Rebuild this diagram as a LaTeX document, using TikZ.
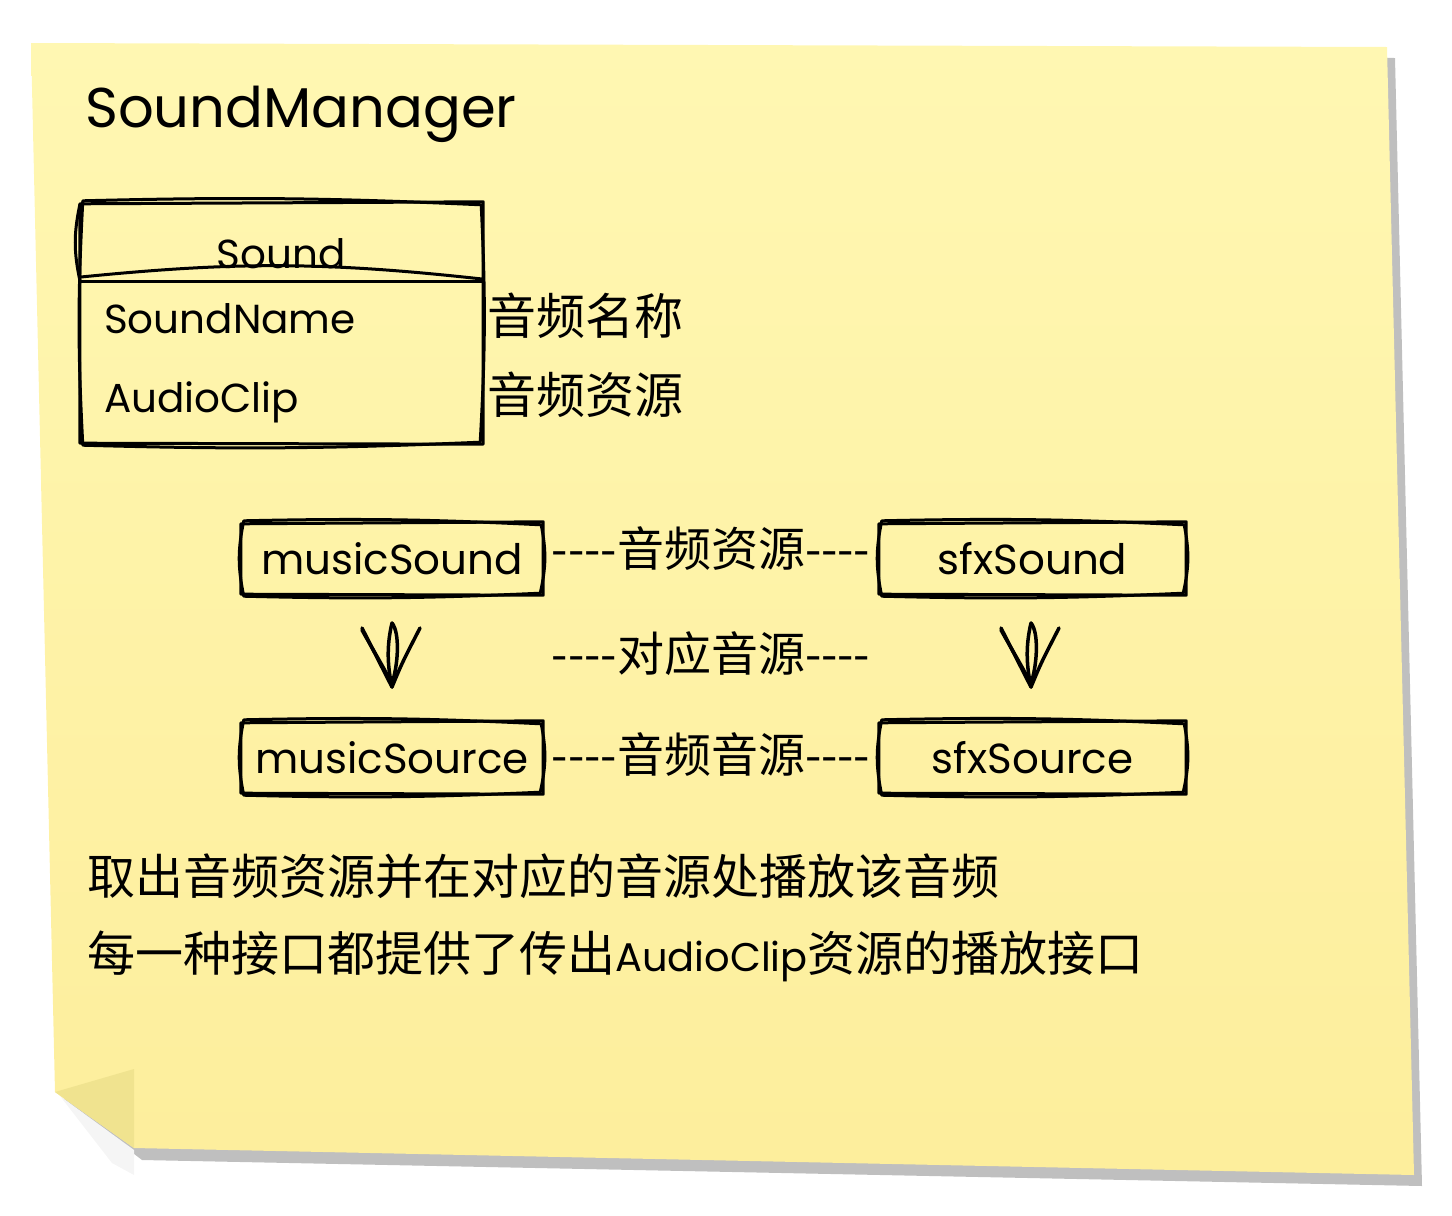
\documentclass[tikz,border=0pt]{standalone}
\usepackage{fontspec}
\setmainfont{Poppins}
\newfontfamily\cjk{Noto Sans CJK SC}
\definecolor{notetop}{RGB}{255,247,178}
\definecolor{notebot}{RGB}{253,238,156}
\definecolor{foldc}{RGB}{240,227,143}
\definecolor{shadowc}{RGB}{191,191,191}
\newcommand\skout[2][12]{%
 \draw[skl] ([shift={(-1,1)}]#2.north west) -- ([shift={(1,-1)}]#2.north east) -- ([shift={(1,1)}]#2.south east) -- ([shift={(-1,0)}]#2.south west) -- cycle;
 \draw[skl] ([shift={(2,-2)}]#2.north west) to[bend left=2] ([shift={(-1,2)}]#2.north east) to[bend left=#1] ([shift={(-2,-1)}]#2.south east) to[bend left=2] ([shift={(2,2)}]#2.south west) to[bend left=#1] ([shift={(2,-2)}]#2.north west);
}
\begin{document}
\begin{tikzpicture}[x=1pt,y=-1pt,
 skl/.style={line width=3pt, line cap=round, line join=round},
 arr/.style={line width=3.5pt, line cap=round, line join=round},
 boxnode/.style={inner sep=0pt, font=\fontsize{42}{46}\selectfont},
 lat/.style={inner sep=0pt, font=\fontsize{40.5}{44}\selectfont},
 zh/.style={inner sep=0pt, font=\cjk\fontsize{49}{54}\selectfont},
 zhm/.style={inner sep=0pt, font=\cjk\fontsize{47}{52}\selectfont},
 zhb/.style={inner sep=0pt, font=\cjk\fontsize{48}{52}\selectfont},
 varrow/.pic={
  \draw[arr] (-30,0) .. controls (-15,30) .. (0,59) .. controls (10,35) .. (28,0);
  \draw[arr] (-30,2) .. controls (-20,20) and (-8,40) .. (0,56);
  \draw[arr] (0,-5) .. controls (-6,20) and (-4,40) .. (0,59);
  \draw[arr] (0,-5) .. controls (8,5) and (6,35) .. (1,52);
 }]
\useasboundingbox (0,0) rectangle (1452,1216);
% sticky note
\fill[shadowc] (39,54) -- (1395,58) -- (1422,1186) -- (142,1160) -- (64,1100) -- cycle;
\fill[gray!8] (60,1096) -- (112,1163) -- (134,1175) -- (134,1150) -- cycle;
\shade[top color=notetop, bottom color=notebot] (31,43) -- (1387,47) -- (1414,1175) -- (134,1148) -- (55,1092) -- cycle;
\fill[foldc] (55,1092) -- (134,1069) -- (134,1148) -- cycle;

% title
\node[inner sep=0pt, anchor=base west, font=\fontsize{56}{60}\selectfont] (title) at (85,127) {SoundManager};

% Sound class
\node[minimum width=401pt, minimum height=240pt, inner sep=0pt] (sound) at (281.5,323) {};
\skout[3]{sound}
\coordinate (hl) at (81,281);
\coordinate (hr) at (482,281);
\draw[skl] (hl) -- (hr);
\draw[skl] ([shift={(0,-4)}]hl) to[bend left=6] ([shift={(0,-2)}]hr);
\draw[skl] ([shift={(-1,2)}]sound.north west) to[bend right=12] ([shift={(-1,0)}]hl);
\node[lat, anchor=base] (stitle) at (281,268) {Sound};
\node[lat, anchor=base west] (sname) at (104,333) {SoundName};
\node[lat, anchor=base west] (sclip) at (104,412) {AudioClip};
\node[zh, anchor=west] (lname) at (487,316) {音频名称};
\node[zh, anchor=west] (lclip) at (487,395) {音频资源};

% boxes
\node[boxnode, minimum width=300pt, minimum height=71pt] (ms) at (392,558.5) {musicSound};
\node[boxnode, minimum width=305pt, minimum height=71pt] (fs) at (1032.5,558.5) {sfxSound};
\node[boxnode, minimum width=300pt, minimum height=71pt] (msrc) at (392,757.5) {musicSource};
\node[boxnode, minimum width=305pt, minimum height=71pt] (fsrc) at (1032.5,757.5) {sfxSource};
\skout{ms}
\skout{fs}
\skout{msrc}
\skout{fsrc}

% middle labels
\node[zhm] (m1) at (711,549) {----音频资源----};
\node[zhm] (m2) at (711,654) {----对应音源----};
\node[zhm] (m3) at (711,755) {----音频音源----};

% arrows
\pic at (392,628) {varrow};
\pic at (1031,628) {varrow};

% bottom text
\node[zhb, anchor=west] (b1) at (87,876) {取出音频资源并在对应的音源处播放该音频};
\node[zhb, anchor=west] (b2) at (87,956) {每一种接口都提供了传出{\rmfamily\fontsize{40}{44}\selectfont AudioClip}资源的播放接口};
\end{tikzpicture}
\end{document}
